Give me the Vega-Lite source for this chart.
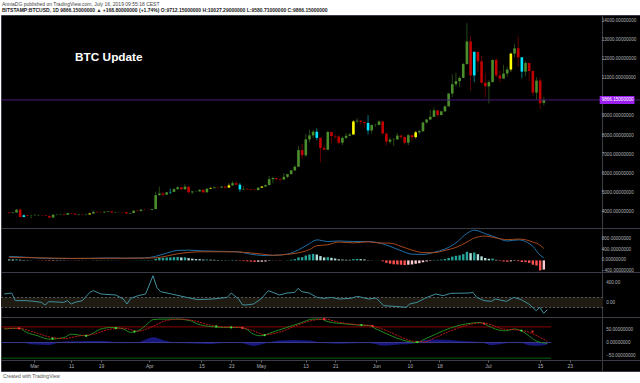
{
  "$schema": "https://vega.github.io/schema/vega-lite/v6.json",
  "background": "white",
  "padding": {"left": 0, "right": 0, "top": 1, "bottom": 0},
  "spacing": 0,
  "bounds": "flush",
  "title": {
    "text": "AnniaDG published on TradingView.com, July 16, 2019 09:55:18 CEST",
    "subtitle": "BITSTAMP:BTCUSD, 1D  9866.15000000 \u25b2 +168.80000000 (+1.74%) O:9712.15000000 H:10027.29000000 L:9580.71000000 C:9866.15000000",
    "anchor": "start",
    "fontSize": 5,
    "fontWeight": "normal",
    "color": "#444444",
    "subtitleFontSize": 5,
    "subtitleFontWeight": "bold",
    "subtitleColor": "#222222",
    "subtitlePadding": 1.5,
    "offset": 1.5,
    "dx": 2
  },
  "resolve": {"scale": {"color": "independent", "x": "independent", "y": "independent"}},
  "config": {
    "font": "Liberation Sans",
    "view": {"fill": "#000000", "stroke": "#3a3d45", "strokeWidth": 1},
    "axis": {"grid": false, "labels": false, "ticks": false, "domainColor": "#3a3d45"},
    "text": {"fontSize": 4.6, "color": "#b0b3ba"}
  },
  "datasets": {
    "candles": [
      {"d":"2019-02-21","o":3975,"h":4005,"l":3915,"c":3945,"k":"down","m":35,"mk":"pf"},
      {"d":"2019-02-22","o":3945,"h":3995,"l":3935,"c":3975,"k":"up","m":30,"mk":"pf"},
      {"d":"2019-02-23","o":3975,"h":4160,"l":3950,"c":4120,"k":"up","m":40,"mk":"pg"},
      {"d":"2019-02-24","o":4120,"h":4200,"l":3710,"c":3740,"k":"down","m":25,"mk":"pf"},
      {"d":"2019-02-25","o":3740,"h":3860,"l":3730,"c":3830,"k":"cyan","m":15,"mk":"pf"},
      {"d":"2019-02-26","o":3830,"h":3840,"l":3780,"c":3800,"k":"down","m":10,"mk":"pf"},
      {"d":"2019-02-27","o":3800,"h":3850,"l":3660,"c":3810,"k":"up","m":5,"mk":"pf"},
      {"d":"2019-02-28","o":3810,"h":3900,"l":3790,"c":3815,"k":"up","m":1,"mk":"pf"},
      {"d":"2019-03-01","o":3815,"h":3860,"l":3800,"c":3825,"k":"up","m":-5,"mk":"nd"},
      {"d":"2019-03-02","o":3825,"h":3845,"l":3780,"c":3820,"k":"down","m":-10,"mk":"nd"},
      {"d":"2019-03-03","o":3820,"h":3830,"l":3770,"c":3795,"k":"down","m":-15,"mk":"nd"},
      {"d":"2019-03-04","o":3795,"h":3810,"l":3690,"c":3710,"k":"down","m":-20,"mk":"nd"},
      {"d":"2019-03-05","o":3710,"h":3880,"l":3705,"c":3860,"k":"up","m":-15,"mk":"nu"},
      {"d":"2019-03-06","o":3860,"h":3900,"l":3830,"c":3870,"k":"up","m":-12,"mk":"nu"},
      {"d":"2019-03-07","o":3870,"h":3910,"l":3850,"c":3880,"k":"up","m":-10,"mk":"nu"},
      {"d":"2019-03-08","o":3880,"h":3930,"l":3820,"c":3855,"k":"down","m":-9,"mk":"nu"},
      {"d":"2019-03-09","o":3855,"h":3960,"l":3850,"c":3940,"k":"up","m":-5,"mk":"nu"},
      {"d":"2019-03-10","o":3940,"h":3945,"l":3890,"c":3915,"k":"down","m":-6,"mk":"nd"},
      {"d":"2019-03-11","o":3915,"h":3925,"l":3840,"c":3865,"k":"down","m":-8,"mk":"nd"},
      {"d":"2019-03-12","o":3865,"h":3895,"l":3820,"c":3880,"k":"up","m":-6,"mk":"nu"},
      {"d":"2019-03-13","o":3880,"h":3890,"l":3850,"c":3865,"k":"down","m":-5,"mk":"nu"},
      {"d":"2019-03-14","o":3865,"h":3915,"l":3820,"c":3875,"k":"up","m":-3,"mk":"nu"},
      {"d":"2019-03-15","o":3875,"h":3935,"l":3865,"c":3920,"k":"yellow","m":2,"mk":"pg"},
      {"d":"2019-03-16","o":3920,"h":4080,"l":3915,"c":4005,"k":"up","m":9,"mk":"pg"},
      {"d":"2019-03-17","o":4005,"h":4010,"l":3960,"c":3980,"k":"down","m":8,"mk":"pf"},
      {"d":"2019-03-18","o":3980,"h":4045,"l":3950,"c":3975,"k":"down","m":7,"mk":"pf"},
      {"d":"2019-03-19","o":3975,"h":4030,"l":3970,"c":4015,"k":"up","m":8,"mk":"pg"},
      {"d":"2019-03-20","o":4015,"h":4055,"l":3990,"c":4040,"k":"up","m":9,"mk":"pg"},
      {"d":"2019-03-21","o":4040,"h":4065,"l":3955,"c":3980,"k":"down","m":5,"mk":"pf"},
      {"d":"2019-03-22","o":3980,"h":4005,"l":3970,"c":3995,"k":"up","m":4,"mk":"pf"},
      {"d":"2019-03-23","o":3995,"h":4010,"l":3980,"c":4000,"k":"up","m":3,"mk":"pf"},
      {"d":"2019-03-24","o":4000,"h":4005,"l":3960,"c":3990,"k":"down","m":2,"mk":"pf"},
      {"d":"2019-03-25","o":3990,"h":3995,"l":3890,"c":3920,"k":"down","m":-3,"mk":"nd"},
      {"d":"2019-03-26","o":3920,"h":3960,"l":3905,"c":3945,"k":"up","m":-2,"mk":"nu"},
      {"d":"2019-03-27","o":3945,"h":4080,"l":3940,"c":4070,"k":"up","m":3,"mk":"pg"},
      {"d":"2019-03-28","o":4070,"h":4080,"l":4025,"c":4050,"k":"down","m":4,"mk":"pg"},
      {"d":"2019-03-29","o":4050,"h":4140,"l":4040,"c":4120,"k":"up","m":8,"mk":"pg"},
      {"d":"2019-03-30","o":4120,"h":4160,"l":4080,"c":4115,"k":"down","m":9,"mk":"pg"},
      {"d":"2019-03-31","o":4115,"h":4130,"l":4090,"c":4110,"k":"down","m":8,"mk":"pf"},
      {"d":"2019-04-01","o":4110,"h":4170,"l":4090,"c":4150,"k":"up","m":10,"mk":"pg"},
      {"d":"2019-04-02","o":4150,"h":5070,"l":4150,"c":4885,"k":"up","m":60,"mk":"pg"},
      {"d":"2019-04-03","o":4885,"h":5330,"l":4860,"c":4970,"k":"up","m":95,"mk":"pg"},
      {"d":"2019-04-04","o":4970,"h":5080,"l":4820,"c":4905,"k":"down","m":100,"mk":"pg"},
      {"d":"2019-04-05","o":4905,"h":5050,"l":4900,"c":5030,"k":"up","m":108,"mk":"pg"},
      {"d":"2019-04-06","o":5030,"h":5230,"l":4940,"c":5050,"k":"cyan","m":112,"mk":"pg"},
      {"d":"2019-04-07","o":5050,"h":5250,"l":5040,"c":5200,"k":"up","m":120,"mk":"pg"},
      {"d":"2019-04-08","o":5200,"h":5350,"l":5150,"c":5290,"k":"up","m":125,"mk":"pg"},
      {"d":"2019-04-09","o":5290,"h":5295,"l":5150,"c":5190,"k":"down","m":110,"mk":"pf"},
      {"d":"2019-04-10","o":5190,"h":5470,"l":5170,"c":5330,"k":"up","m":115,"mk":"pg"},
      {"d":"2019-04-11","o":5330,"h":5340,"l":4980,"c":5030,"k":"down","m":85,"mk":"pf"},
      {"d":"2019-04-12","o":5030,"h":5100,"l":4940,"c":5075,"k":"up","m":65,"mk":"pf"},
      {"d":"2019-04-13","o":5075,"h":5120,"l":5050,"c":5080,"k":"up","m":50,"mk":"pf"},
      {"d":"2019-04-14","o":5080,"h":5180,"l":5040,"c":5160,"k":"up","m":45,"mk":"pf"},
      {"d":"2019-04-15","o":5160,"h":5190,"l":4990,"c":5030,"k":"down","m":30,"mk":"pf"},
      {"d":"2019-04-16","o":5030,"h":5240,"l":5020,"c":5220,"k":"up","m":32,"mk":"pg"},
      {"d":"2019-04-17","o":5220,"h":5300,"l":5210,"c":5250,"k":"yellow","m":25,"mk":"pf"},
      {"d":"2019-04-18","o":5250,"h":5330,"l":5240,"c":5290,"k":"up","m":22,"mk":"pf"},
      {"d":"2019-04-19","o":5290,"h":5330,"l":5210,"c":5280,"k":"down","m":15,"mk":"pf"},
      {"d":"2019-04-20","o":5280,"h":5350,"l":5270,"c":5330,"k":"up","m":16,"mk":"pg"},
      {"d":"2019-04-21","o":5330,"h":5350,"l":5210,"c":5280,"k":"down","m":8,"mk":"pf"},
      {"d":"2019-04-22","o":5280,"h":5490,"l":5260,"c":5390,"k":"yellow","m":10,"mk":"pg"},
      {"d":"2019-04-23","o":5390,"h":5620,"l":5380,"c":5510,"k":"up","m":18,"mk":"pg"},
      {"d":"2019-04-24","o":5510,"h":5620,"l":5400,"c":5430,"k":"down","m":12,"mk":"pf"},
      {"d":"2019-04-25","o":5430,"h":5530,"l":5050,"c":5180,"k":"cyan","m":-15,"mk":"nd"},
      {"d":"2019-04-26","o":5180,"h":5350,"l":5150,"c":5210,"k":"up","m":-25,"mk":"nd"},
      {"d":"2019-04-27","o":5210,"h":5240,"l":5170,"c":5185,"k":"down","m":-35,"mk":"nd"},
      {"d":"2019-04-28","o":5185,"h":5200,"l":5130,"c":5160,"k":"down","m":-45,"mk":"nd"},
      {"d":"2019-04-29","o":5160,"h":5180,"l":5100,"c":5150,"k":"down","m":-55,"mk":"nd"},
      {"d":"2019-04-30","o":5150,"h":5300,"l":5130,"c":5275,"k":"up","m":-50,"mk":"nu"},
      {"d":"2019-05-01","o":5275,"h":5360,"l":5270,"c":5330,"k":"yellow","m":-48,"mk":"nu"},
      {"d":"2019-05-02","o":5330,"h":5440,"l":5320,"c":5410,"k":"up","m":-40,"mk":"nu"},
      {"d":"2019-05-03","o":5410,"h":5900,"l":5400,"c":5720,"k":"up","m":-15,"mk":"nu"},
      {"d":"2019-05-04","o":5720,"h":5850,"l":5500,"c":5780,"k":"up","m":-5,"mk":"nu"},
      {"d":"2019-05-05","o":5780,"h":5790,"l":5660,"c":5730,"k":"down","m":-8,"mk":"nd"},
      {"d":"2019-05-06","o":5730,"h":5760,"l":5580,"c":5700,"k":"down","m":-10,"mk":"nd"},
      {"d":"2019-05-07","o":5700,"h":6040,"l":5690,"c":5840,"k":"up","m":2,"mk":"pg"},
      {"d":"2019-05-08","o":5840,"h":6000,"l":5760,"c":5980,"k":"up","m":10,"mk":"pg"},
      {"d":"2019-05-09","o":5980,"h":6190,"l":5970,"c":6180,"k":"up","m":25,"mk":"pg"},
      {"d":"2019-05-10","o":6180,"h":6450,"l":6150,"c":6370,"k":"up","m":45,"mk":"pg"},
      {"d":"2019-05-11","o":6370,"h":7450,"l":6370,"c":7240,"k":"up","m":110,"mk":"pg"},
      {"d":"2019-05-12","o":7240,"h":7580,"l":6780,"c":6970,"k":"down","m":120,"mk":"pg"},
      {"d":"2019-05-13","o":6970,"h":8080,"l":6880,"c":7800,"k":"up","m":180,"mk":"pg"},
      {"d":"2019-05-14","o":7800,"h":8300,"l":7650,"c":8010,"k":"up","m":220,"mk":"pg"},
      {"d":"2019-05-15","o":8010,"h":8290,"l":7860,"c":8200,"k":"up","m":240,"mk":"pg"},
      {"d":"2019-05-16","o":8200,"h":8380,"l":7750,"c":7880,"k":"cyan","m":215,"mk":"pf"},
      {"d":"2019-05-17","o":7880,"h":7920,"l":6600,"c":7350,"k":"down","m":160,"mk":"pf"},
      {"d":"2019-05-18","o":7350,"h":7480,"l":7230,"c":7260,"k":"down","m":110,"mk":"pf"},
      {"d":"2019-05-19","o":7260,"h":8260,"l":7250,"c":8190,"k":"up","m":120,"mk":"pg"},
      {"d":"2019-05-20","o":8190,"h":8200,"l":7600,"c":7980,"k":"down","m":95,"mk":"pf"},
      {"d":"2019-05-21","o":7980,"h":8050,"l":7830,"c":7950,"k":"down","m":70,"mk":"pf"},
      {"d":"2019-05-22","o":7950,"h":8030,"l":7560,"c":7630,"k":"down","m":40,"mk":"pf"},
      {"d":"2019-05-23","o":7630,"h":7950,"l":7500,"c":7880,"k":"up","m":30,"mk":"pf"},
      {"d":"2019-05-24","o":7880,"h":8140,"l":7800,"c":7990,"k":"up","m":25,"mk":"pf"},
      {"d":"2019-05-25","o":7990,"h":8150,"l":7960,"c":8060,"k":"up","m":20,"mk":"pf"},
      {"d":"2019-05-26","o":8060,"h":8800,"l":8040,"c":8740,"k":"yellow","m":50,"mk":"pg"},
      {"d":"2019-05-27","o":8740,"h":8920,"l":8640,"c":8780,"k":"up","m":55,"mk":"pg"},
      {"d":"2019-05-28","o":8780,"h":8810,"l":8570,"c":8720,"k":"down","m":45,"mk":"pf"},
      {"d":"2019-05-29","o":8720,"h":8720,"l":8430,"c":8660,"k":"down","m":35,"mk":"pf"},
      {"d":"2019-05-30","o":8660,"h":9070,"l":8050,"c":8270,"k":"cyan","m":10,"mk":"pf"},
      {"d":"2019-05-31","o":8270,"h":8580,"l":8100,"c":8550,"k":"up","m":5,"mk":"pf"},
      {"d":"2019-06-01","o":8550,"h":8620,"l":8460,"c":8560,"k":"up","m":2,"mk":"pf"},
      {"d":"2019-06-02","o":8560,"h":8800,"l":8540,"c":8740,"k":"up","m":4,"mk":"pg"},
      {"d":"2019-06-03","o":8740,"h":8740,"l":8080,"c":8110,"k":"down","m":-35,"mk":"nd"},
      {"d":"2019-06-04","o":8110,"h":8110,"l":7490,"c":7680,"k":"down","m":-90,"mk":"nd"},
      {"d":"2019-06-05","o":7680,"h":7900,"l":7570,"c":7790,"k":"up","m":-120,"mk":"nd"},
      {"d":"2019-06-06","o":7790,"h":7870,"l":7460,"c":7800,"k":"up","m":-145,"mk":"nd"},
      {"d":"2019-06-07","o":7800,"h":8130,"l":7780,"c":8000,"k":"up","m":-150,"mk":"nd"},
      {"d":"2019-06-08","o":8000,"h":8050,"l":7830,"c":7930,"k":"down","m":-160,"mk":"nd"},
      {"d":"2019-06-09","o":7930,"h":7950,"l":7520,"c":7630,"k":"down","m":-175,"mk":"nd"},
      {"d":"2019-06-10","o":7630,"h":8090,"l":7500,"c":8020,"k":"up","m":-160,"mk":"nu"},
      {"d":"2019-06-11","o":8020,"h":8030,"l":7740,"c":7920,"k":"down","m":-150,"mk":"nu"},
      {"d":"2019-06-12","o":7920,"h":8240,"l":7850,"c":8170,"k":"yellow","m":-125,"mk":"nu"},
      {"d":"2019-06-13","o":8170,"h":8320,"l":8060,"c":8230,"k":"up","m":-105,"mk":"nu"},
      {"d":"2019-06-14","o":8230,"h":8700,"l":8180,"c":8690,"k":"up","m":-70,"mk":"nu"},
      {"d":"2019-06-15","o":8690,"h":8880,"l":8620,"c":8840,"k":"up","m":-40,"mk":"nu"},
      {"d":"2019-06-16","o":8840,"h":9350,"l":8840,"c":8980,"k":"up","m":-15,"mk":"nu"},
      {"d":"2019-06-17","o":8980,"h":9460,"l":8970,"c":9320,"k":"up","m":15,"mk":"pg"},
      {"d":"2019-06-18","o":9320,"h":9350,"l":8960,"c":9080,"k":"down","m":20,"mk":"pg"},
      {"d":"2019-06-19","o":9080,"h":9300,"l":9050,"c":9270,"k":"up","m":30,"mk":"pg"},
      {"d":"2019-06-20","o":9270,"h":9600,"l":9230,"c":9530,"k":"up","m":50,"mk":"pg"},
      {"d":"2019-06-21","o":9530,"h":10250,"l":9530,"c":10200,"k":"up","m":90,"mk":"pg"},
      {"d":"2019-06-22","o":10200,"h":11200,"l":10020,"c":10690,"k":"up","m":140,"mk":"pg"},
      {"d":"2019-06-23","o":10690,"h":11300,"l":10560,"c":10850,"k":"up","m":170,"mk":"pg"},
      {"d":"2019-06-24","o":10850,"h":11100,"l":10540,"c":11020,"k":"up","m":190,"mk":"pg"},
      {"d":"2019-06-25","o":11020,"h":11800,"l":11010,"c":11750,"k":"up","m":230,"mk":"pg"},
      {"d":"2019-06-26","o":11750,"h":13880,"l":11700,"c":12930,"k":"up","m":320,"mk":"pg"},
      {"d":"2019-06-27","o":12930,"h":13230,"l":10340,"c":11150,"k":"down","m":270,"mk":"pf"},
      {"d":"2019-06-28","o":11150,"h":12430,"l":10800,"c":12380,"k":"cyan","m":290,"mk":"pg"},
      {"d":"2019-06-29","o":12380,"h":12420,"l":11330,"c":11890,"k":"down","m":230,"mk":"pf"},
      {"d":"2019-06-30","o":11890,"h":12180,"l":10700,"c":10770,"k":"down","m":150,"mk":"pf"},
      {"d":"2019-07-01","o":10770,"h":11270,"l":10000,"c":10580,"k":"down","m":90,"mk":"pf"},
      {"d":"2019-07-02","o":10580,"h":10900,"l":9680,"c":10800,"k":"up","m":60,"mk":"pf"},
      {"d":"2019-07-03","o":10800,"h":12000,"l":10800,"c":11960,"k":"up","m":70,"mk":"pg"},
      {"d":"2019-07-04","o":11960,"h":12060,"l":11050,"c":11150,"k":"down","m":20,"mk":"pf"},
      {"d":"2019-07-05","o":11150,"h":11400,"l":10800,"c":10980,"k":"down","m":-20,"mk":"nd"},
      {"d":"2019-07-06","o":10980,"h":11700,"l":10980,"c":11250,"k":"up","m":-40,"mk":"nd"},
      {"d":"2019-07-07","o":11250,"h":11600,"l":11080,"c":11460,"k":"up","m":-50,"mk":"nd"},
      {"d":"2019-07-08","o":11460,"h":12350,"l":11350,"c":12290,"k":"yellow","m":-35,"mk":"nu"},
      {"d":"2019-07-09","o":12290,"h":12800,"l":12100,"c":12570,"k":"up","m":-15,"mk":"nu"},
      {"d":"2019-07-10","o":12570,"h":13180,"l":11600,"c":12100,"k":"down","m":-30,"mk":"nd"},
      {"d":"2019-07-11","o":12100,"h":12100,"l":11000,"c":11350,"k":"cyan","m":-60,"mk":"nd"},
      {"d":"2019-07-12","o":11350,"h":11900,"l":11100,"c":11800,"k":"up","m":-65,"mk":"nd"},
      {"d":"2019-07-13","o":11800,"h":11830,"l":10850,"c":11380,"k":"down","m":-90,"mk":"nd"},
      {"d":"2019-07-14","o":11380,"h":11450,"l":10100,"c":10250,"k":"down","m":-160,"mk":"nd"},
      {"d":"2019-07-15","o":10250,"h":11050,"l":9880,"c":10880,"k":"up","m":-190,"mk":"nd"},
      {"d":"2019-07-16","o":10880,"h":11030,"l":9400,"c":9697,"k":"down","m":-370,"mk":"nd"},
      {"d":"2019-07-17","o":9712,"h":10027,"l":9581,"c":9866,"k":"up","m":-340,"mk":"nu"}
    ],
    "macd": [
      {"d":"2019-02-21","macd":150,"sig":115},{"d":"2019-02-25","macd":120,"sig":105},
      {"d":"2019-03-01","macd":90,"sig":95},{"d":"2019-03-05","macd":70,"sig":85},
      {"d":"2019-03-10","macd":70,"sig":75},{"d":"2019-03-15","macd":75,"sig":75},
      {"d":"2019-03-20","macd":88,"sig":80},{"d":"2019-03-25","macd":80,"sig":82},
      {"d":"2019-03-30","macd":92,"sig":84},{"d":"2019-04-02","macd":150,"sig":95},
      {"d":"2019-04-05","macd":270,"sig":160},{"d":"2019-04-08","macd":370,"sig":245},
      {"d":"2019-04-11","macd":380,"sig":295},{"d":"2019-04-15","macd":350,"sig":320},
      {"d":"2019-04-20","macd":335,"sig":320},{"d":"2019-04-24","macd":325,"sig":315},
      {"d":"2019-04-28","macd":230,"sig":275},{"d":"2019-05-01","macd":185,"sig":235},
      {"d":"2019-05-04","macd":185,"sig":190},{"d":"2019-05-08","macd":235,"sig":225},
      {"d":"2019-05-11","macd":390,"sig":280},{"d":"2019-05-14","macd":620,"sig":400},
      {"d":"2019-05-16","macd":760,"sig":545},{"d":"2019-05-19","macd":700,"sig":580},
      {"d":"2019-05-22","macd":720,"sig":680},{"d":"2019-05-26","macd":700,"sig":650},
      {"d":"2019-05-30","macd":700,"sig":690},{"d":"2019-06-02","macd":650,"sig":646},
      {"d":"2019-06-05","macd":520,"sig":640},{"d":"2019-06-08","macd":360,"sig":520},
      {"d":"2019-06-11","macd":230,"sig":380},{"d":"2019-06-14","macd":220,"sig":290},
      {"d":"2019-06-17","macd":300,"sig":285},{"d":"2019-06-20","macd":420,"sig":370},
      {"d":"2019-06-23","macd":650,"sig":480},{"d":"2019-06-26","macd":1000,"sig":680},
      {"d":"2019-06-28","macd":1120,"sig":830},{"d":"2019-07-01","macd":990,"sig":900},
      {"d":"2019-07-04","macd":850,"sig":830},{"d":"2019-07-07","macd":720,"sig":770},
      {"d":"2019-07-10","macd":760,"sig":790},{"d":"2019-07-12","macd":700,"sig":765},
      {"d":"2019-07-14","macd":520,"sig":680},{"d":"2019-07-16","macd":190,"sig":560},
      {"d":"2019-07-17","macd":100,"sig":440}
    ],
    "cci": [
      {"d":"2019-02-21","v":170},{"d":"2019-02-23","v":190},{"d":"2019-02-24","v":37},{"d":"2019-02-27","v":37},
      {"d":"2019-03-01","v":23},{"d":"2019-03-03","v":3},{"d":"2019-03-04","v":-50},{"d":"2019-03-05","v":17},
      {"d":"2019-03-09","v":3},{"d":"2019-03-10","v":37},{"d":"2019-03-11","v":-30},{"d":"2019-03-12","v":3},
      {"d":"2019-03-14","v":37},{"d":"2019-03-16","v":203},{"d":"2019-03-17","v":237},{"d":"2019-03-19","v":170},
      {"d":"2019-03-23","v":150},{"d":"2019-03-25","v":70},{"d":"2019-03-26","v":-30},{"d":"2019-03-27","v":83},
      {"d":"2019-03-29","v":137},{"d":"2019-03-31","v":170},{"d":"2019-04-02","v":537},{"d":"2019-04-03","v":303},
      {"d":"2019-04-04","v":217},{"d":"2019-04-07","v":170},{"d":"2019-04-11","v":103},{"d":"2019-04-14","v":57},
      {"d":"2019-04-18","v":70},{"d":"2019-04-22","v":103},{"d":"2019-04-23","v":190},{"d":"2019-04-25","v":70},
      {"d":"2019-04-26","v":-43},{"d":"2019-04-27","v":-50},{"d":"2019-04-29","v":-30},{"d":"2019-05-01","v":70},
      {"d":"2019-05-03","v":237},{"d":"2019-05-06","v":150},{"d":"2019-05-08","v":190},{"d":"2019-05-10","v":200},
      {"d":"2019-05-11","v":283},{"d":"2019-05-12","v":217},{"d":"2019-05-14","v":190},{"d":"2019-05-16","v":103},
      {"d":"2019-05-18","v":83},{"d":"2019-05-20","v":103},{"d":"2019-05-22","v":70},{"d":"2019-05-25","v":83},
      {"d":"2019-05-27","v":123},{"d":"2019-05-30","v":70},{"d":"2019-06-01","v":90},{"d":"2019-06-03","v":-63},
      {"d":"2019-06-06","v":-77},{"d":"2019-06-09","v":-97},{"d":"2019-06-10","v":-30},{"d":"2019-06-12","v":3},
      {"d":"2019-06-14","v":83},{"d":"2019-06-17","v":170},{"d":"2019-06-19","v":137},{"d":"2019-06-21","v":183},
      {"d":"2019-06-26","v":190},{"d":"2019-06-27","v":203},{"d":"2019-06-28","v":103},{"d":"2019-06-30","v":37},
      {"d":"2019-07-02","v":23},{"d":"2019-07-03","v":70},{"d":"2019-07-06","v":23},{"d":"2019-07-08","v":103},
      {"d":"2019-07-10","v":57},{"d":"2019-07-12","v":-30},{"d":"2019-07-14","v":-163},{"d":"2019-07-15","v":-97},
      {"d":"2019-07-16","v":-217},{"d":"2019-07-17","v":-143}
    ],
    "wt1": [
      {"d":"2019-02-21","v":52},{"d":"2019-02-25","v":55},{"d":"2019-02-27","v":39},{"d":"2019-03-02","v":26},
      {"d":"2019-03-05","v":13},{"d":"2019-03-09","v":19},{"d":"2019-03-11","v":32},{"d":"2019-03-15","v":26},
      {"d":"2019-03-19","v":52},{"d":"2019-03-22","v":58},{"d":"2019-03-25","v":52},{"d":"2019-03-27","v":39},
      {"d":"2019-03-29","v":45},{"d":"2019-03-31","v":65},{"d":"2019-04-02","v":88},{"d":"2019-04-05","v":90},
      {"d":"2019-04-08","v":90},{"d":"2019-04-12","v":84},{"d":"2019-04-14","v":71},{"d":"2019-04-17","v":62},
      {"d":"2019-04-21","v":58},{"d":"2019-04-25","v":58},{"d":"2019-04-27","v":52},{"d":"2019-04-29","v":32},
      {"d":"2019-05-01","v":26},{"d":"2019-05-04","v":39},{"d":"2019-05-08","v":58},{"d":"2019-05-12","v":77},
      {"d":"2019-05-15","v":90},{"d":"2019-05-17","v":90},{"d":"2019-05-19","v":80},{"d":"2019-05-24","v":71},
      {"d":"2019-05-27","v":67},{"d":"2019-05-30","v":65},{"d":"2019-06-01","v":52},{"d":"2019-06-05","v":26},
      {"d":"2019-06-08","v":10},{"d":"2019-06-12","v":0},{"d":"2019-06-14","v":13},{"d":"2019-06-17","v":32},
      {"d":"2019-06-19","v":45},{"d":"2019-06-23","v":65},{"d":"2019-06-27","v":75},{"d":"2019-06-29","v":77},
      {"d":"2019-07-01","v":65},{"d":"2019-07-03","v":52},{"d":"2019-07-06","v":45},{"d":"2019-07-08","v":52},
      {"d":"2019-07-10","v":45},{"d":"2019-07-12","v":26},{"d":"2019-07-14","v":6},{"d":"2019-07-17","v":-3}
    ],
    "wt2": [
      {"d":"2019-02-21","v":55},{"d":"2019-02-25","v":54},{"d":"2019-03-01","v":40},{"d":"2019-03-05","v":22},
      {"d":"2019-03-09","v":15},{"d":"2019-03-13","v":25},{"d":"2019-03-17","v":32},{"d":"2019-03-21","v":50},
      {"d":"2019-03-25","v":55},{"d":"2019-03-29","v":44},{"d":"2019-04-02","v":62},{"d":"2019-04-05","v":82},
      {"d":"2019-04-09","v":90},{"d":"2019-04-13","v":84},{"d":"2019-04-17","v":68},{"d":"2019-04-21","v":60},
      {"d":"2019-04-25","v":58},{"d":"2019-04-29","v":45},{"d":"2019-05-02","v":30},{"d":"2019-05-06","v":40},
      {"d":"2019-05-10","v":62},{"d":"2019-05-14","v":82},{"d":"2019-05-18","v":90},{"d":"2019-05-22","v":78},
      {"d":"2019-05-26","v":70},{"d":"2019-05-30","v":66},{"d":"2019-06-03","v":50},{"d":"2019-06-07","v":25},
      {"d":"2019-06-11","v":5},{"d":"2019-06-14","v":3},{"d":"2019-06-17","v":20},{"d":"2019-06-21","v":45},
      {"d":"2019-06-25","v":65},{"d":"2019-06-29","v":75},{"d":"2019-07-02","v":68},{"d":"2019-07-05","v":52},
      {"d":"2019-07-09","v":48},{"d":"2019-07-12","v":40},{"d":"2019-07-15","v":20},{"d":"2019-07-17","v":5}
    ],
    "wtd": [
      {"d":"2019-02-21","v":-3},{"d":"2019-02-25","v":1},{"d":"2019-03-01","v":-8},{"d":"2019-03-05","v":-9},
      {"d":"2019-03-09","v":4},{"d":"2019-03-13","v":5},{"d":"2019-03-17","v":6},{"d":"2019-03-21","v":5},
      {"d":"2019-03-25","v":-3},{"d":"2019-03-29","v":1},{"d":"2019-04-02","v":20},{"d":"2019-04-05","v":8},
      {"d":"2019-04-09","v":-2},{"d":"2019-04-13","v":-4},{"d":"2019-04-17","v":-6},{"d":"2019-04-21","v":-2},
      {"d":"2019-04-25","v":0},{"d":"2019-04-29","v":-13},{"d":"2019-05-02","v":-4},{"d":"2019-05-06","v":8},
      {"d":"2019-05-10","v":10},{"d":"2019-05-14","v":8},{"d":"2019-05-18","v":-2},{"d":"2019-05-22","v":-5},
      {"d":"2019-05-26","v":-3},{"d":"2019-05-30","v":-2},{"d":"2019-06-03","v":-12},{"d":"2019-06-07","v":-8},
      {"d":"2019-06-11","v":-4},{"d":"2019-06-14","v":10},{"d":"2019-06-17","v":12},{"d":"2019-06-21","v":10},
      {"d":"2019-06-25","v":5},{"d":"2019-06-29","v":2},{"d":"2019-07-02","v":-10},{"d":"2019-07-05","v":-5},
      {"d":"2019-07-09","v":3},{"d":"2019-07-12","v":-10},{"d":"2019-07-15","v":-12},{"d":"2019-07-17","v":-8}
    ],
    "cross": [
      {"d":"2019-02-25","v":54,"c":"down"},{"d":"2019-03-06","v":15,"c":"up"},{"d":"2019-03-15","v":26,"c":"up"},
      {"d":"2019-03-23","v":55,"c":"up"},{"d":"2019-03-28","v":42,"c":"up"},{"d":"2019-04-19","v":62,"c":"up"},
      {"d":"2019-04-23","v":58,"c":"up"},{"d":"2019-04-26","v":56,"c":"down"},{"d":"2019-05-02","v":28,"c":"up"},
      {"d":"2019-05-18","v":90,"c":"down"},{"d":"2019-05-28","v":67,"c":"up"},{"d":"2019-05-31","v":64,"c":"down"},
      {"d":"2019-06-12","v":2,"c":"up"},{"d":"2019-06-30","v":73,"c":"down"},{"d":"2019-07-10","v":46,"c":"up"},
      {"d":"2019-07-13","v":42,"c":"down"}
    ]
  },
  "vconcat": [
    {
      "width": 640, "height": 213,
      "layer": [
        {
          "data": {"name": "candles"},
          "mark": {"type": "rule", "strokeWidth": 1, "opacity": 0.5},
          "encoding": {
            "x": {"field": "d", "type": "temporal", "scale": {"type": "utc", "domain": [1550632032000, 1565496288000]}, "axis": null},
            "y": {"field": "l", "type": "quantitative", "scale": {"domain": [3162, 14314], "nice": false, "zero": false},
                  "axis": {"orient": "right", "offset": -39, "title": null, "labels": false}},
            "y2": {"field": "h"},
            "color": {"field": "k", "type": "nominal", "scale": {"domain": ["up","down","cyan","yellow"], "range": ["#4a8f2c","#c20000","#00e5ff","#ffff00"]}, "legend": null}
          }
        },
        {
          "data": {"name": "candles"},
          "mark": {"type": "bar", "size": 2.6},
          "encoding": {
            "x": {"field": "d", "type": "temporal"},
            "y": {"field": "o", "type": "quantitative"},
            "y2": {"field": "c"},
            "color": {"field": "k", "type": "nominal", "legend": null}
          }
        },
        {
          "data": {"values": [{"p": 9866.15}]},
          "mark": {"type": "rule", "color": "#4b1a7a", "strokeWidth": 1},
          "encoding": {"y": {"field": "p", "type": "quantitative"}}
        },
        {
          "data": {"values": [{"v": 4000}, {"v": 5000}, {"v": 6000}, {"v": 7000}, {"v": 8000}, {"v": 9000}, {"v": 11000}, {"v": 12000}, {"v": 13000}, {"v": 14000}]},
          "mark": {"type": "text", "align": "left", "baseline": "middle", "dx": 3},
          "encoding": {
            "x": {"datum": {"year": 2019, "month": 8, "date": 1, "utc": true}, "type": "temporal"},
            "y": {"field": "v", "type": "quantitative"},
            "text": {"field": "v", "type": "quantitative", "format": ".8f"}
          }
        },
        {
          "data": {"values": [{"t": "9866.15000000", "p": 9866.15}]},
          "mark": {"type": "rect", "color": "#9c1ff2"},
          "encoding": {
            "x": {"datum": {"year": 2019, "month": 8, "date": 1, "hours": 6, "utc": true}, "type": "temporal"},
            "x2": {"datum": {"year": 2019, "month": 8, "date": 10, "hours": 18, "utc": true}},
            "y": {"datum": 9656, "type": "quantitative"},
            "y2": {"datum": 10076}
          }
        },
        {
          "data": {"values": [{"t": "9866.15000000", "p": 9866.15}]},
          "mark": {"type": "text", "align": "left", "baseline": "middle", "color": "#ffffff", "dx": 2},
          "encoding": {
            "x": {"datum": {"year": 2019, "month": 8, "date": 1, "hours": 6, "utc": true}, "type": "temporal"},
            "y": {"field": "p", "type": "quantitative"},
            "text": {"field": "t"}
          }
        },
        {
          "data": {"values": [{"t": "BTC Update"}]},
          "mark": {"type": "text", "align": "left", "baseline": "middle", "fontSize": 11.8, "fontWeight": "bold", "color": "#ffffff"},
          "encoding": {
            "x": {"datum": {"year": 2019, "month": 3, "date": 11, "utc": true}, "type": "temporal"},
            "y": {"datum": 12115, "type": "quantitative"},
            "text": {"field": "t"}
          }
        }
      ]
    },
    {
      "width": 640, "height": 44,
      "layer": [
        {
          "data": {"name": "candles"},
          "mark": {"type": "bar", "size": 2.4},
          "encoding": {
            "x": {"field": "d", "type": "temporal", "scale": {"type": "utc", "domain": [1550632032000, 1565496288000]}, "axis": null},
            "y": {"field": "m", "type": "quantitative", "scale": {"domain": [-430, 1200], "nice": false, "zero": false},
                  "axis": {"orient": "right", "offset": -39, "title": null, "labels": false}},
            "y2": {"datum": 0},
            "color": {"field": "mk", "type": "nominal", "scale": {"domain": ["pg","pf","nd","nu"], "range": ["#26a69a","#b2dfdb","#ff5252","#ffcdd2"]}, "legend": null}
          }
        },
        {
          "data": {"name": "macd"},
          "mark": {"type": "line", "color": "#1e6fa8", "strokeWidth": 1, "interpolate": "monotone"},
          "encoding": {"x": {"field": "d", "type": "temporal"}, "y": {"field": "macd", "type": "quantitative"}}
        },
        {
          "data": {"name": "macd"},
          "mark": {"type": "line", "color": "#a8481a", "strokeWidth": 1, "interpolate": "monotone"},
          "encoding": {"x": {"field": "d", "type": "temporal"}, "y": {"field": "sig", "type": "quantitative"}}
        },
        {
          "data": {"values": [{"v": -400}, {"v": 0}, {"v": 400}, {"v": 800}]},
          "mark": {"type": "text", "align": "left", "baseline": "middle", "dx": 3},
          "encoding": {
            "x": {"datum": {"year": 2019, "month": 8, "date": 1, "utc": true}, "type": "temporal"},
            "y": {"field": "v", "type": "quantitative"},
            "text": {"field": "v", "type": "quantitative", "format": ".8f"}
          }
        }
      ]
    },
    {
      "width": 640, "height": 45,
      "layer": [
        {
          "data": {"values": [{"b": "band"}]},
          "mark": {"type": "rect", "color": "#1f1b12"},
          "encoding": {
            "x": {"datum": {"year": 2019, "month": 2, "date": 20, "hours": 4, "utc": true}, "type": "temporal", "scale": {"type": "utc", "domain": [1550632032000, 1565496288000]}, "axis": null},
            "x2": {"datum": {"year": 2019, "month": 8, "date": 1, "utc": true}},
            "y": {"datum": 100, "type": "quantitative", "scale": {"domain": [-290, 610], "nice": false, "zero": false},
                  "axis": {"orient": "right", "offset": -39, "title": null, "labels": false}},
            "y2": {"datum": -100}
          }
        },
        {
          "data": {"values": [{"v": 100}, {"v": -100}]},
          "mark": {"type": "rule", "color": "#6d6f76", "strokeWidth": 0.8, "strokeDash": [2, 2]},
          "encoding": {
            "x": {"datum": {"year": 2019, "month": 2, "date": 20, "hours": 4, "utc": true}, "type": "temporal"},
            "x2": {"datum": {"year": 2019, "month": 8, "date": 1, "utc": true}},
            "y": {"field": "v", "type": "quantitative"}
          }
        },
        {
          "data": {"name": "cci"},
          "mark": {"type": "line", "color": "#3f8f9c", "strokeWidth": 1},
          "encoding": {
            "x": {"field": "d", "type": "temporal"},
            "y": {"field": "v", "type": "quantitative"}
          }
        },
        {
          "data": {"values": [{"v": 0}, {"v": 400}]},
          "mark": {"type": "text", "align": "left", "baseline": "middle", "dx": 3},
          "encoding": {
            "x": {"datum": {"year": 2019, "month": 8, "date": 1, "utc": true}, "type": "temporal"},
            "y": {"field": "v", "type": "quantitative"},
            "text": {"field": "v", "type": "quantitative", "format": ".2f"}
          }
        }
      ]
    },
    {
      "width": 640, "height": 43,
      "layer": [
        {
          "data": {"name": "wtd"},
          "mark": {"type": "area", "color": "#1a1a8c", "opacity": 0.9, "interpolate": "monotone"},
          "encoding": {
            "x": {"field": "d", "type": "temporal", "scale": {"type": "utc", "domain": [1550632032000, 1565496288000]}, "axis": null},
            "y": {"field": "v", "type": "quantitative", "scale": {"domain": [-67, 98], "nice": false, "zero": false},
                  "axis": {"orient": "right", "offset": -39, "title": null, "labels": false}},
            "y2": {"datum": 0}
          }
        },
        {
          "data": {"values": [{"v": 60}]},
          "mark": {"type": "rule", "color": "#8b0000", "strokeWidth": 1},
          "encoding": {
            "x": {"datum": {"year": 2019, "month": 2, "date": 20, "hours": 4, "utc": true}, "type": "temporal"},
            "x2": {"datum": {"year": 2019, "month": 7, "date": 18, "utc": true}},
            "y": {"field": "v", "type": "quantitative"}
          }
        },
        {
          "data": {"values": [{"v": -60}]},
          "mark": {"type": "rule", "color": "#0d5c0d", "strokeWidth": 1},
          "encoding": {
            "x": {"datum": {"year": 2019, "month": 2, "date": 20, "hours": 4, "utc": true}, "type": "temporal"},
            "x2": {"datum": {"year": 2019, "month": 7, "date": 18, "utc": true}},
            "y": {"field": "v", "type": "quantitative"}
          }
        },
        {
          "data": {"values": [{"v": 0}]},
          "mark": {"type": "rule", "color": "#3a3a90", "strokeWidth": 1},
          "encoding": {
            "x": {"datum": {"year": 2019, "month": 2, "date": 20, "hours": 4, "utc": true}, "type": "temporal"},
            "x2": {"datum": {"year": 2019, "month": 7, "date": 18, "utc": true}},
            "y": {"field": "v", "type": "quantitative"}
          }
        },
        {
          "data": {"name": "wt1"},
          "mark": {"type": "line", "color": "#1f8a1f", "strokeWidth": 1, "interpolate": "monotone"},
          "encoding": {"x": {"field": "d", "type": "temporal"}, "y": {"field": "v", "type": "quantitative"}}
        },
        {
          "data": {"name": "wt2"},
          "mark": {"type": "line", "color": "#c01818", "strokeWidth": 1, "strokeDash": [2, 1], "interpolate": "monotone"},
          "encoding": {"x": {"field": "d", "type": "temporal"}, "y": {"field": "v", "type": "quantitative"}}
        },
        {
          "data": {"name": "cross"},
          "mark": {"type": "circle", "size": 5, "opacity": 1},
          "encoding": {
            "x": {"field": "d", "type": "temporal"},
            "y": {"field": "v", "type": "quantitative"},
            "color": {"field": "c", "type": "nominal", "scale": {"domain": ["up", "down"], "range": ["#3ddc3d", "#ff3030"]}, "legend": null}
          }
        },
        {
          "data": {"values": [{"v": -50}, {"v": 0}, {"v": 50}]},
          "mark": {"type": "text", "align": "left", "baseline": "middle", "dx": 3},
          "encoding": {
            "x": {"datum": {"year": 2019, "month": 8, "date": 1, "utc": true}, "type": "temporal"},
            "y": {"field": "v", "type": "quantitative"},
            "text": {"field": "v", "type": "quantitative", "format": ".8f"}
          }
        }
      ]
    },
    {
      "width": 640, "height": 11,
      "title": {"text": "Created with TradingView", "orient": "bottom", "anchor": "start", "fontSize": 5, "fontWeight": "normal", "color": "#555555", "offset": 3, "dx": 2},
      "data": {"name": "candles"},
      "mark": {"type": "point", "opacity": 0},
      "encoding": {
        "x": {"field": "d", "type": "temporal", "scale": {"type": "utc", "domain": [1550632032000, 1565496288000]},
              "axis": {"orient": "bottom", "offset": -11, "title": null, "domain": false, "labels": true, "ticks": true, "tickSize": 2, "tickColor": "#666666", "labelPadding": 1, "labelFontSize": 5, "labelColor": "#b0b3ba", "labelOverlap": false,
                       "values": [1551398400000, 1552262400000, 1552953600000, 1554076800000, 1555286400000, 1555977600000, 1556668800000, 1557705600000, 1558396800000, 1559347200000, 1560124800000, 1560816000000, 1561939200000, 1563148800000, 1563840000000],
                       "labelExpr": "utcdate(datum.value) == 1 ? utcFormat(datum.value, '%b') : utcFormat(datum.value, '%-d')"}},
        "y": {"datum": 0, "type": "quantitative", "axis": {"orient": "right", "offset": -39, "title": null, "labels": false}}
      }
    }
  ]
}
